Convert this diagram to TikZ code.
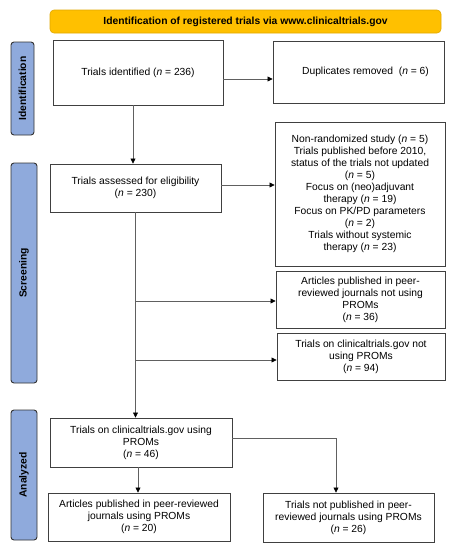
\documentclass[tikz,border=0pt]{standalone}
\usepackage{fontspec}
\setmainfont{Liberation Sans}
\usetikzlibrary{arrows.meta,positioning}
\definecolor{bannerfill}{HTML}{FFC000}
\definecolor{bannerdraw}{HTML}{E0A800}
\definecolor{sidefill}{HTML}{8FAADC}
\definecolor{boxdraw}{HTML}{404040}
\definecolor{linecol}{HTML}{606060}
\begin{document}
\begin{tikzpicture}[x=1pt,y=-1pt,
  font=\fontsize{10.3}{12}\selectfont,
  flowbox/.style={draw=boxdraw,line width=0.9pt,fill=white,align=center,inner sep=0pt},
  sidelabel/.style={draw=black!80,line width=0.9pt,fill=sidefill,rounded corners=3pt,rotate=90,inner sep=0pt,font=\fontsize{10.3}{12}\selectfont\bfseries},
  arr/.style={draw=linecol,line width=0.7pt,-{Triangle[length=5pt,width=5pt,color=black]}},
  plain/.style={draw=linecol,line width=0.7pt}]
\useasboundingbox (0,0) rectangle (452,550);
\fill[white] (0,0) rectangle (452,550);

% banner
\node[draw=bannerdraw,line width=0.6pt,fill=bannerfill,rounded corners=4pt,minimum width=391pt,minimum height=23pt,inner sep=0pt,font=\fontsize{10.3}{12}\selectfont\bfseries] (banner) at (245.5,21.5) {Identification of registered trials via www.clinicaltrials.gov};

% side labels
\node[sidelabel,minimum width=93pt,minimum height=23pt] (sid) at (22.5,88.5) {Identification};
\node[sidelabel,minimum width=220pt,minimum height=26pt] (sscr) at (24,273) {Screening};
\node[sidelabel,minimum width=130pt,minimum height=26pt] (sana) at (24,475) {Analyzed};

% boxes
\node[flowbox,minimum width=170pt,minimum height=65pt] (b1) at (138,72.5) {Trials identified (\textit{n} = 236)};
\node[flowbox,minimum width=171pt,minimum height=62pt] (b2) at (358.5,72) {\hspace*{14pt}Duplicates removed\ \ (\textit{n} = 6)};
\node[flowbox,minimum width=171pt,minimum height=48pt] (b3) at (135.5,188) {Trials assessed for eligibility\\(\textit{n} = 230)};
\node[flowbox,minimum width=170pt,minimum height=144pt] (ex) at (360,194) {Non-randomized study (\textit{n} = 5)\\Trials published before 2010,\\status of the trials not updated\\(\textit{n} = 5)\\Focus on (neo)adjuvant\\therapy (\textit{n} = 19)\\Focus on PK/PD parameters\\(\textit{n} = 2)\\Trials without systemic\\therapy (\textit{n} = 23)};
\node[flowbox,minimum width=169pt,minimum height=57pt] (b5) at (360.5,299.5) {Articles published in peer-\\reviewed journals not using\\PROMs\\(\textit{n} = 36)};
\node[flowbox,minimum width=168pt,minimum height=47pt] (b6) at (361,356.5) {Trials on clinicaltrials.gov not\\using PROMs\\(\textit{n} = 94)};
\node[flowbox,minimum width=182pt,minimum height=49pt] (b7) at (141,442.5) {Trials on clinicaltrials.gov using\\PROMs\\(\textit{n} = 46)};
\node[flowbox,minimum width=182pt,minimum height=48pt] (b8) at (139,517) {Articles published in peer-reviewed\\journals using PROMs\\(\textit{n} = 20)};
\node[flowbox,minimum width=171pt,minimum height=49pt] (b9) at (348.5,517.5) {Trials not published in peer-\\reviewed journals using PROMs\\(\textit{n} = 26)};

% connector anchor points
\coordinate (c1) at ([yshift=-6.5pt]b1.east);
\coordinate (c2) at ([xshift=-5pt]b1.south);
\coordinate (c3) at ([yshift=3pt]b3.east);
\coordinate (c5) at ([yshift=-1.5pt]b5.west);
\coordinate (c6) at ([yshift=-3.5pt]b6.west);
\coordinate (c8) at ([xshift=-1pt]b8.north);
\coordinate (c7) at ([yshift=4.5pt]b7.east);
\coordinate (c9) at ([xshift=-12.5pt]b9.north);

% connectors
\draw[arr] (c1) -- (b2.west |- c1);
\draw[arr] (c2) -- (b3.north -| c2);
\draw[arr] (c3) -- (ex.west |- c3);
\draw[arr] (b3.south) -- (b7.north -| b3.south);
\draw[arr] (b3.south |- c5) -- (c5);
\draw[arr] (b3.south |- c6) -- (c6);
\draw[arr] (c8 |- b7.south) -- (c8);
\draw[arr] (c7) -| (c9);
\end{tikzpicture}
\end{document}
